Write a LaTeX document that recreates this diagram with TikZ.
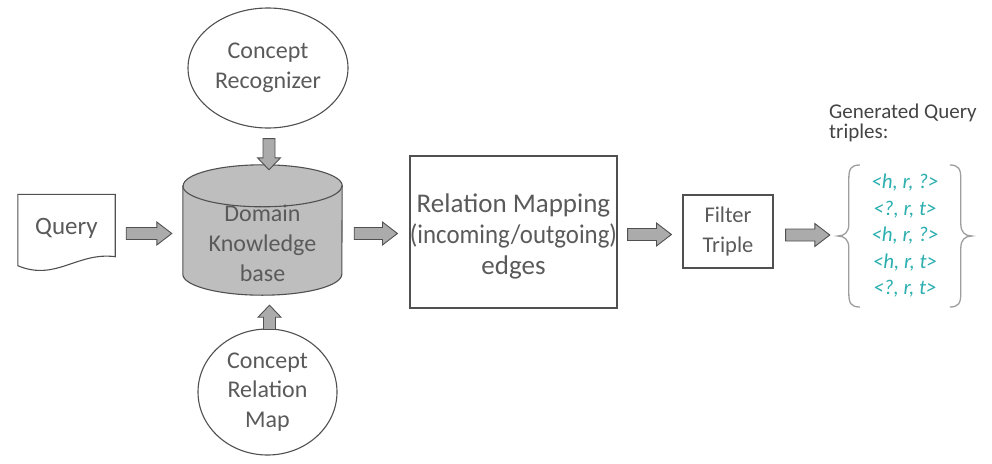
\documentclass[tikz,border=0pt]{standalone}
\usepackage{fontspec}
\setmainfont{Carlito}
\usetikzlibrary{calc,shapes.geometric}

\definecolor{edgegray}{HTML}{505050}
\definecolor{txtgray}{HTML}{5A5A5A}
\definecolor{labelgray}{HTML}{444444}
\definecolor{arrowfill}{HTML}{ABABAB}
\definecolor{drumfill}{HTML}{BEBEBE}
\definecolor{bracegray}{HTML}{9E9E9E}
\definecolor{tripleteal}{RGB}{45,175,175}

\tikzset{
  x=1pt, y=1pt,
  every node/.style={text=txtgray, inner sep=0pt},
  outline/.style={draw=edgegray, line width=1.1pt},
  boxnode/.style={outline, rectangle, align=center},
  bubble/.style={outline, ellipse, align=center, font=\fontsize{24}{29.5}\selectfont},
  % thick grey block arrow; the argument is the length of its head
  blockarrow/.style={draw=edgegray, fill=arrowfill, line width=0.9pt, line join=miter,
    to path={(\tikztostart) coordinate (bas)
      ($(\tikztotarget)!#1pt!(\tikztostart)$) coordinate (bah)
      ($(bas)!6pt!90:(bah)$) -- ($(bah)!6pt!-90:(bas)$) -- ($(bah)!11.5pt!-90:(bas)$)
      -- (\tikztotarget) -- ($(bah)!11.5pt!90:(bas)$) -- ($(bah)!6pt!90:(bas)$)
      -- ($(bas)!6pt!-90:(bah)$) -- cycle}},
}

\begin{document}
\begin{tikzpicture}
\useasboundingbox (0,0) rectangle (992,-463);

% --- Query document ---
\node[minimum width=97, minimum height=73] (query) at (66.5,-231) {};
\node[font=\fontsize{25}{29}\selectfont] (querytext) at (66.5,-228) {Query};
\draw[outline] (query.north west) -- (query.north east) -- ($(query.south east)+(0,11)$)
  .. controls ($(query.south east)+(-38,16)$) and ($(query.south west)+(38,-14)$) .. ($(query.south west)+(0,2)$)
  -- cycle;

% --- Domain knowledge base drum ---
\node[minimum width=159, minimum height=130] (kb) at (262.5,-230) {};
\draw[outline, fill=drumfill] ($(kb.north west)+(0,-21)$) -- ($(kb.south west)+(0,21)$)
  arc[start angle=180, end angle=360, x radius=79.5, y radius=21]
  -- ($(kb.north east)+(0,-21)$)
  arc[start angle=0, end angle=180, x radius=79.5, y radius=21] -- cycle;
\draw[outline] ($(kb.north west)+(0,-21)$) arc[start angle=180, end angle=360, x radius=79.5, y radius=21];
\node[align=center, font=\fontsize{24}{30}\selectfont] (kbtext) at (262.5,-243) {Domain\\Knowledge\\base};

% --- Concept sources ---
\node[bubble, minimum width=160, minimum height=120] (cr) at (268,-68) {Concept\\Recognizer};
\node[bubble, minimum width=139, minimum height=126] (crm) at (267.5,-392) {Concept\\Relation\\Map};

% --- Processing stages ---
\node[boxnode, minimum width=207, minimum height=152] (rm) at (513.5,-232) {};
\node[align=center, font=\fontsize{27}{31}\selectfont] (rmtext) at (513.5,-236)
  {Relation Mapping\\\scalebox{0.92}[1]{(incoming/outgoing)}\\edges};
\node[boxnode, minimum width=90, minimum height=73, font=\fontsize{22.5}{30}\selectfont] (filter) at (728,-231.5)
  {Filter\\Triple};

% --- Output triples ---
\node[minimum width=134, minimum height=142, align=center, text=tripleteal,
      font=\fontsize{21}{26.5}\itshape\selectfont] (br) at (905,-236)
  {<h, r, ?>\\<?, r, t>\\<h, r, ?>\\<h, r, t>\\<?, r, t>};
\node[anchor=west, align=left, text=labelgray, font=\fontsize{21}{20}\selectfont] (gen) at (829,-123)
  {Generated Query\\triples:};

\begin{scope}[shift={(br.west)}, line width=1.3pt]
  \draw[bracegray] (22,71) .. controls (13,71) and (11,67) .. (11,57) -- (11,12)
    .. controls (11,4) and (7,0) .. (0,0) .. controls (7,0) and (11,-4) .. (11,-12)
    -- (11,-57) .. controls (11,-67) and (13,-71) .. (22,-71);
  \draw[bracegray] (112,71) .. controls (121,71) and (123,67) .. (123,57) -- (123,12)
    .. controls (123,4) and (127,0) .. (134,0) .. controls (127,0) and (123,-4) .. (123,-12)
    -- (123,-57) .. controls (123,-67) and (121,-71) .. (112,-71);
\end{scope}

% --- Block arrows ---
\path[blockarrow=15] ($(query.east)+(11,-2.5)$) to ($(kb.west)+(-11,-3.5)$);
\path[blockarrow=15] ($(kb.east)+(12,-3.5)$) to ($(rm.west)+(-12,-1.5)$);
\path[blockarrow=15] ($(rm.east)+(10,-2.5)$) to ($(filter.west)+(-11,-3)$);
\path[blockarrow=15] ($(filter.east)+(12,-3.5)$) to ($(br.west)+(-8,1)$);
\path[blockarrow=12] ($(cr.south)+(1,-10)$) to ($(cr.south |- kb.north)+(1,-5)$);
\path[blockarrow=12] ($(crm.north)+(2,-1)$) to ($(crm.north |- kb.south)+(2,-10)$);
\end{tikzpicture}
\end{document}
